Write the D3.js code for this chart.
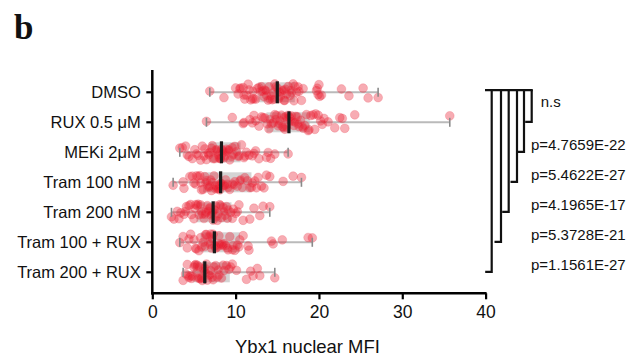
<!DOCTYPE html>
<html>
<head>
<meta charset="utf-8">
<script src="https://cdn.jsdelivr.net/npm/d3@7"></script>
<style>
  html, body { margin: 0; padding: 0; background: #fff; }
  svg { display: block; }
  text { font-family: "Liberation Sans", Arial, Helvetica, sans-serif; fill: #111; }
</style>
</head>
<body>
<svg id="chart" width="630" height="357"></svg>
<script>
// ---------------- DATA ----------------
const categories = ["DMSO", "RUX 0.5 \u03BCM", "MEKi 2\u03BCM", "Tram 100 nM", "Tram 200 nM", "Tram 100 + RUX", "Tram 200 + RUX"];

const dmso = [6.9, 8.6, 10.0, 10.3, 10.6, 10.9, 11.1, 11.3, 11.5, 11.8, 12.0, 12.2, 12.4, 12.6, 12.8, 13.0, 13.2, 13.4, 13.5, 13.7, 13.9, 14.0, 14.2, 14.4, 14.5, 14.7, 14.8, 15.0, 15.1, 15.3, 15.4, 15.6, 15.8, 15.9, 16.1, 16.3, 16.5, 16.7, 16.9, 17.1, 17.3, 17.6, 17.9, 18.1, 19.7, 19.9, 20.0, 20.3, 22.7, 23.6, 25.3, 25.9, 27.1,
  10.5, 11.0, 11.6, 12.1, 13.1, 13.6, 14.1, 14.6, 15.2, 15.7, 16.0, 16.6, 17.0, 17.5, 19.8, 20.1];
const rux = [6.5, 9.6, 10.9, 11.0, 11.7, 12.0, 12.4, 12.8, 13.1, 13.5, 13.8, 14.0, 14.3, 14.5, 14.7, 14.9, 15.1, 15.3, 15.5, 15.6, 15.8, 15.9, 16.1, 16.2, 16.4, 16.5, 16.7, 16.8, 17.0, 17.2, 17.4, 17.6, 17.8, 18.0, 18.3, 18.5, 18.8, 19.0, 19.3, 19.6, 19.9, 20.2, 20.6, 21.1, 21.9, 22.5, 22.8, 23.1, 24.3, 35.7,
  12.2, 13.3, 14.1, 14.8, 15.2, 15.7, 16.0, 16.3, 16.6, 17.1, 17.5, 18.1, 18.7, 19.5, 20.4];
const meki = [3.3, 3.6, 4.0, 4.4, 4.8, 5.1, 5.5, 5.8, 6.0, 6.3, 6.5, 6.7, 6.9, 7.1, 7.3, 7.5, 7.6, 7.8, 7.9, 8.1, 8.2, 8.3, 8.4, 8.6, 8.7, 8.9, 9.1, 9.3, 9.5, 9.7, 9.9, 10.1, 10.4, 10.7, 11.0, 11.3, 11.6, 12.0, 12.4, 12.8, 13.7, 14.2, 14.7, 16.3,
  4.2, 5.3, 6.2, 6.8, 7.2, 7.7, 8.0, 8.5, 8.8, 9.2, 9.6, 10.3, 11.1, 12.2, 13.9];
const tram100 = [2.5, 3.7, 3.8, 4.5, 4.8, 5.0, 5.3, 5.5, 5.7, 5.9, 6.1, 6.3, 6.5, 6.7, 6.9, 7.0, 7.2, 7.4, 7.5, 7.7, 7.8, 8.0, 8.1, 8.2, 8.4, 8.6, 8.8, 9.0, 9.3, 9.6, 9.9, 10.2, 10.5, 10.8, 11.1, 11.4, 11.7, 12.0, 12.3, 12.7, 13.1, 13.4, 13.7, 14.1, 15.7, 16.9, 17.9,
  5.2, 5.8, 6.4, 6.8, 7.1, 7.6, 7.9, 8.3, 8.7, 9.1, 9.8, 10.6, 11.9, 12.5];
const tram200 = [2.3, 2.6, 3.0, 3.4, 3.8, 4.1, 4.4, 4.7, 5.0, 5.2, 5.4, 5.6, 5.8, 6.0, 6.2, 6.4, 6.6, 6.8, 6.9, 7.1, 7.2, 7.3, 7.4, 7.6, 7.7, 7.9, 8.1, 8.3, 8.5, 8.7, 8.9, 9.1, 9.4, 9.7, 10.0, 10.4, 10.9, 11.7, 12.2, 12.9, 13.3, 14.1,
  3.2, 4.0, 4.6, 5.1, 5.5, 5.9, 6.3, 6.7, 7.0, 7.5, 7.8, 8.2, 8.6, 9.0, 9.6, 10.2];
const tram100Rux = [3.3, 3.7, 4.2, 4.6, 5.0, 5.3, 5.6, 5.9, 6.1, 6.3, 6.5, 6.7, 6.9, 7.0, 7.2, 7.3, 7.5, 7.6, 7.8, 8.0, 8.2, 8.4, 8.6, 8.8, 9.0, 9.3, 9.6, 9.9, 10.2, 10.5, 10.9, 11.5, 11.6, 14.3, 14.5, 15.6, 18.7, 19.2,
  4.4, 5.2, 5.8, 6.4, 6.8, 7.1, 7.7, 8.1, 8.5, 9.1, 9.7, 10.4];
const tram200Rux = [3.7, 4.0, 4.2, 4.4, 4.6, 4.8, 5.0, 5.1, 5.3, 5.4, 5.6, 5.7, 5.9, 6.0, 6.1, 6.2, 6.3, 6.5, 6.6, 6.8, 7.0, 7.2, 7.4, 7.6, 7.8, 8.0, 8.3, 8.6, 8.9, 9.2, 9.6, 10.1, 11.3, 11.8, 12.1, 12.6, 12.9, 14.7,
  4.3, 4.7, 5.2, 5.5, 5.8, 6.4, 6.9, 7.3, 7.9, 8.5, 9.4];

// box statistics
const q1s     = [12.7, 13.7, 6.85, 6.1, 5.3, 5.8, 4.9];
const medians = [15.0, 16.4, 8.3, 8.2, 7.3, 7.45, 6.3];
const q3s     = [17.1, 18.9, 10.6, 11.9, 9.5, 10.5, 9.3];

const xTicks = [0, 10, 20, 30, 40];
const xLabel = "Ybx1 nuclear MFI";
const pLabels = ["n.s", "p=4.7659E-22", "p=5.4622E-27", "p=4.1965E-17", "p=5.3728E-21", "p=1.1561E-27"];
const panelLabel = "b";

// ---------------- CHART ----------------
const series = [dmso, rux, meki, tram100, tram200, tram100Rux, tram200Rux];
const svg = d3.select("#chart");

const x = d3.scaleLinear().domain([0, 40]).range([152.3, 485.6]);
const y = d3.scalePoint().domain(categories).range([92.3, 272.3]);
const axisTop = 70, axisBottom = 293.3;

// panel label
svg.append("text").attr("x", 14).attr("y", 38.5)
  .style("font-family", "'Liberation Serif', 'Times New Roman', serif")
  .style("font-weight", "bold").style("font-size", "35px")
  .text(panelLabel);

const boxH = 20;
const rng = d3.randomLcg(0.4217);
const jitter = d3.randomUniform.source(rng)(-8.5, 8.5);

categories.forEach((c, i) => {
  const vals = series[i];
  const cy = y(c);
  const g = svg.append("g");
  const vmin = d3.min(vals), vmax = d3.max(vals);
  // box
  g.append("rect")
    .attr("x", x(q1s[i])).attr("y", cy - boxH / 2)
    .attr("width", x(q3s[i]) - x(q1s[i])).attr("height", boxH)
    .attr("fill", "#d4d4d4");
  // whisker
  g.append("line")
    .attr("x1", x(vmin)).attr("x2", x(vmax)).attr("y1", cy).attr("y2", cy)
    .attr("stroke", "#bababa").attr("stroke-width", 2);
  // points
  g.selectAll("circle").data(vals).join("circle")
    .attr("cx", d => x(d))
    .attr("cy", () => cy + jitter())
    .attr("r", 4.4)
    .attr("fill", "#e8192c").attr("fill-opacity", 0.36)
    .attr("stroke", "#ec5866").attr("stroke-opacity", 0.35).attr("stroke-width", 0.8);
  // caps
  [vmin, vmax].forEach(v => {
    g.append("line")
      .attr("x1", x(v)).attr("x2", x(v)).attr("y1", cy - 4.5).attr("y2", cy + 4.5)
      .attr("stroke", "#8a8a8a").attr("stroke-width", 1.6);
  });
  // median
  g.append("line")
    .attr("x1", x(medians[i])).attr("x2", x(medians[i]))
    .attr("y1", cy - 11).attr("y2", cy + 11)
    .attr("stroke", "#1a1a1a").attr("stroke-width", 3.2);
});

// y axis
const yAxisG = svg.append("g");
yAxisG.append("line").attr("x1", 152.3).attr("x2", 152.3).attr("y1", axisTop).attr("y2", axisBottom + 1.2)
  .attr("stroke", "#000").attr("stroke-width", 2.5);
categories.forEach(c => {
  yAxisG.append("line").attr("x1", 146.3).attr("x2", 152.3).attr("y1", y(c)).attr("y2", y(c))
    .attr("stroke", "#000").attr("stroke-width", 2.2);
  yAxisG.append("text").attr("x", 140.8).attr("y", y(c)).attr("dy", "0.36em")
    .attr("text-anchor", "end").style("font-size", "16.5px").text(c);
});

// x axis
const xAxis = d3.axisBottom(x).tickValues(xTicks).tickSize(6).tickPadding(6.7).tickFormat(d3.format("d"));
const xg = svg.append("g").attr("transform", `translate(0,${axisBottom})`).call(xAxis);
xg.select(".domain").attr("stroke", "#000").attr("stroke-width", 2.5)
  .attr("d", `M${x(0) - 1.2},0H${x(40) + 1}`);
xg.selectAll(".tick line").attr("stroke", "#000").attr("stroke-width", 2.2);
xg.selectAll(".tick text").style("font-size", "17.5px")
  .style("font-family", "'Liberation Sans', Arial, sans-serif").attr("fill", "#111");

svg.append("text").attr("x", 307.5).attr("y", 352.5).attr("text-anchor", "middle")
  .style("font-size", "18.5px").text(xLabel);

// significance brackets
const topY = y(categories[0]) - 2.2;
const bg = svg.append("g").attr("fill", "none").attr("stroke", "#111").attr("stroke-width", 2.2);
const bracketX = [531.7, 524, 517, 508.7, 501, 491.7];
bg.append("line").attr("x1", 485).attr("x2", 532.8).attr("y1", topY).attr("y2", topY);
for (let k = 1; k < categories.length; k++) {
  const bx = bracketX[k - 1];
  const by = y(categories[k]) - 0.5;
  bg.append("path").attr("d", `M${bx},${topY}V${by}H${bx - 6.5}`);
}
// labels
svg.append("text").attr("x", 540.7).attr("y", 107).style("font-size", "15px").text(pLabels[0]);
for (let k = 1; k < pLabels.length; k++) {
  const cy = y(categories[k + 1]);
  svg.append("text").attr("x", 531).attr("y", cy - 2.5).style("font-size", "15px").text(pLabels[k]);
}
</script>
</body>
</html>
